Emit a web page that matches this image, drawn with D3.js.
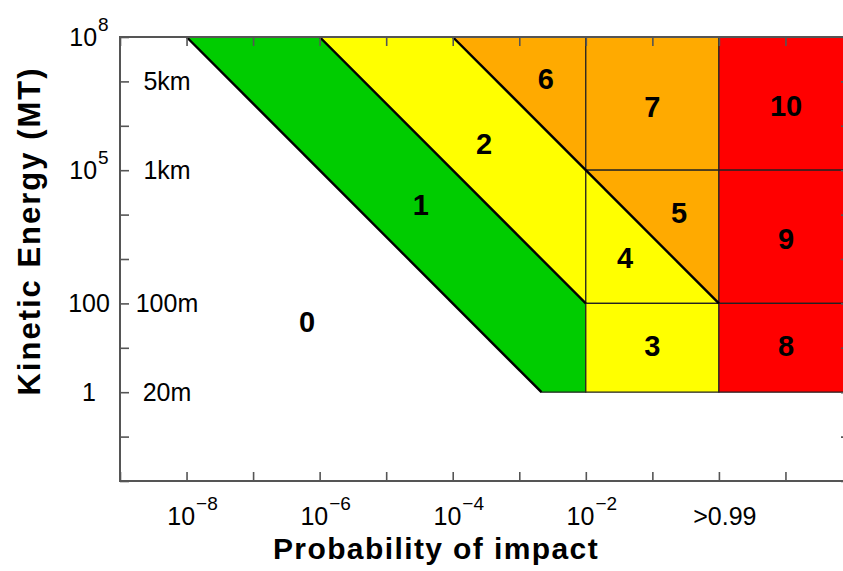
<!DOCTYPE html>
<html><head><meta charset="utf-8">
<script src="https://cdn.jsdelivr.net/npm/d3@7"></script>
<style>
html,body{margin:0;padding:0;background:#fff;}
svg{display:block;font-family:"Liberation Sans",Arial,Helvetica,sans-serif;}
</style></head>
<body><svg id="chart" width="843" height="571"></svg>
<script>
// ---- data ----
const probDomain = [1e-9, 1e2];
const energyDomain = [1e-2, 1e8];
const probTicks = d3.range(-9, 3).map(k => Math.pow(10, k));
const energyTicks = d3.range(-2, 9).map(k => Math.pow(10, k));
const probLabelValues = [1e-8, 1e-6, 1e-4, 1e-2, 1];
const probLabelBase = ["10", "10", "10", "10", ">0.99"];
const probLabelExp = ["\u22128", "\u22126", "\u22124", "\u22122", ""];
const energyLabelValues = [1e8, 1e5, 1e2, 1];
const energyLabelBase = ["10", "10", "100", "1"];
const energyLabelExp = ["8", "5", "", ""];
const sizeLabels = ["5km", "1km", "100m", "20m"];
const sizeEnergies = [1e7, 1e5, 1e2, 1];
// Torino scale regions: [probability, energy] vertices
const regionIds = [1, 2, 6, 7, 4, 5, 3, 10, 9, 8];
const regionClass = ["green", "yellow", "orange", "orange", "yellow", "orange", "yellow", "red", "red", "red"];
const regionVertices = [
  [[1e-8,1e8],[1e-6,1e8],[1e-2,1e2],[1e-2,1],[Math.pow(10,-8/3),1]],
  [[1e-6,1e8],[1e-4,1e8],[1e-2,1e5],[1e-2,1e2]],
  [[1e-4,1e8],[1e-2,1e8],[1e-2,1e5]],
  [[1e-2,1e8],[1,1e8],[1,1e5],[1e-2,1e5]],
  [[1e-2,1e5],[1,1e2],[1e-2,1e2]],
  [[1e-2,1e5],[1,1e5],[1,1e2]],
  [[1e-2,1e2],[1,1e2],[1,1],[1e-2,1]],
  [[1,1e8],[1e2,1e8],[1e2,1e5],[1,1e5]],
  [[1,1e5],[1e2,1e5],[1e2,1e2],[1,1e2]],
  [[1,1e2],[1e2,1e2],[1e2,1],[1,1]]
];
const boundaryLines = [
  [[1e-8,1e8],[Math.pow(10,-8/3),1]],
  [[1e-6,1e8],[1e-2,1e2]],
  [[1e-4,1e8],[1,1e2]]
];
const labelText = ["0","1","2","6","7","10","5","9","4","3","8"];
const labelProb = [-6.19,-4.48,-3.53,-2.60,-1.0,1.01,-0.60,1.01,-1.41,-1.0,1.01].map(v => Math.pow(10, v));
const labelEnergy = [1.58,4.22,5.59,7.05,6.42,6.45,4.04,3.45,3.02,1.04,1.04].map(v => Math.pow(10, v));

// ---- styles ----
const colourOf = {green:"#00cc00", yellow:"#ffff00", orange:"#ffaa00", red:"#ff0000"};
const axisColour = "#555";

const svg = d3.select("#chart");
svg.append("rect").attr("width",843).attr("height",571).attr("fill","#fff");

const x = d3.scaleLog().domain(probDomain).range([120, 852]);
const y = d3.scaleLog().domain(energyDomain).range([481, 37]);
const pt = d => [x(d[0]), y(d[1])];

// regions
svg.append("g").selectAll("path").data(regionVertices).join("path")
  .attr("d", d => "M" + d.map(pt).map(p => p.join(",")).join("L") + "Z")
  .attr("fill", (d,i) => colourOf[regionClass[i]])
  .attr("stroke", "#222").attr("stroke-width", 1.2).attr("stroke-linejoin","miter");

// diagonal boundaries
svg.append("g").selectAll("line").data(boundaryLines).join("line")
  .attr("x1", d => x(d[0][0])).attr("y1", d => y(d[0][1]))
  .attr("x2", d => x(d[1][0])).attr("y2", d => y(d[1][1]))
  .attr("stroke", "#000").attr("stroke-width", 2.4);

// axes (ticks inward)
const axB = d3.axisTop(x).tickValues(probTicks).tickSize(9).tickFormat("");
const axT = d3.axisBottom(x).tickValues(probTicks).tickSize(9).tickFormat("");
const axL = d3.axisRight(y).tickValues(energyTicks).tickSize(9).tickFormat("");
const axR = d3.axisLeft(y).tickValues(energyTicks).tickSize(9).tickFormat("");
function styleAxis(g){
  g.select(".domain").remove();
  g.selectAll(".tick line").attr("stroke", axisColour).attr("stroke-width", 1.6);
}
svg.append("g").attr("transform","translate(0,481)").call(axB).call(styleAxis);
svg.append("g").attr("transform","translate(0,37)").call(axT).call(styleAxis);
svg.append("g").attr("transform","translate(120,0)").call(axL).call(styleAxis);
svg.append("g").attr("transform","translate(850,0)").call(axR).call(styleAxis);
// frame
svg.append("rect").attr("x",120).attr("y",37).attr("width",730).attr("height",444)
  .attr("fill","none").attr("stroke",axisColour).attr("stroke-width",2);

// x tick labels
const xl = svg.append("g").selectAll("text").data(probLabelValues).join("text")
  .attr("x", d => x(d) + 6).attr("y", 525)
  .attr("text-anchor","middle").attr("font-size",25).attr("fill","#000");
xl.append("tspan").text((d,i) => probLabelBase[i]);
xl.append("tspan").attr("dx",1).attr("dy",-15).attr("font-size",19).text((d,i) => probLabelExp[i]);

// y tick labels
const yl = svg.append("g").selectAll("text").data(energyLabelValues).join("text")
  .attr("x", 89).attr("y", d => y(d) + 9)
  .attr("text-anchor","middle").attr("font-size",25).attr("fill","#000");
yl.append("tspan").text((d,i) => energyLabelBase[i]);
yl.append("tspan").attr("dx",1).attr("dy",-15).attr("font-size",19).text((d,i) => energyLabelExp[i]);

// size labels
svg.append("g").selectAll("text").data(sizeEnergies).join("text")
  .attr("x", 167).attr("y", d => y(d) + 9)
  .attr("text-anchor","middle").attr("font-size",25).attr("fill","#000")
  .text((d,i) => sizeLabels[i]);

// region numbers
svg.append("g").selectAll("text").data(labelText).join("text")
  .attr("x", (d,i) => x(labelProb[i])).attr("y", (d,i) => y(labelEnergy[i]) + 10)
  .attr("text-anchor","middle").attr("font-size",29).attr("font-weight","bold").attr("fill","#000")
  .text(d => d);

// axis titles
svg.append("text").attr("x",436).attr("y",559).attr("text-anchor","middle")
  .attr("font-size",30).attr("font-weight","bold").attr("letter-spacing",1.4)
  .text("Probability of impact");
svg.append("text").attr("transform","translate(40,231) rotate(-90)").attr("text-anchor","middle")
  .attr("font-size",31).attr("font-weight","bold").attr("letter-spacing",2)
  .text("Kinetic Energy (MT)");
</script></body></html>
